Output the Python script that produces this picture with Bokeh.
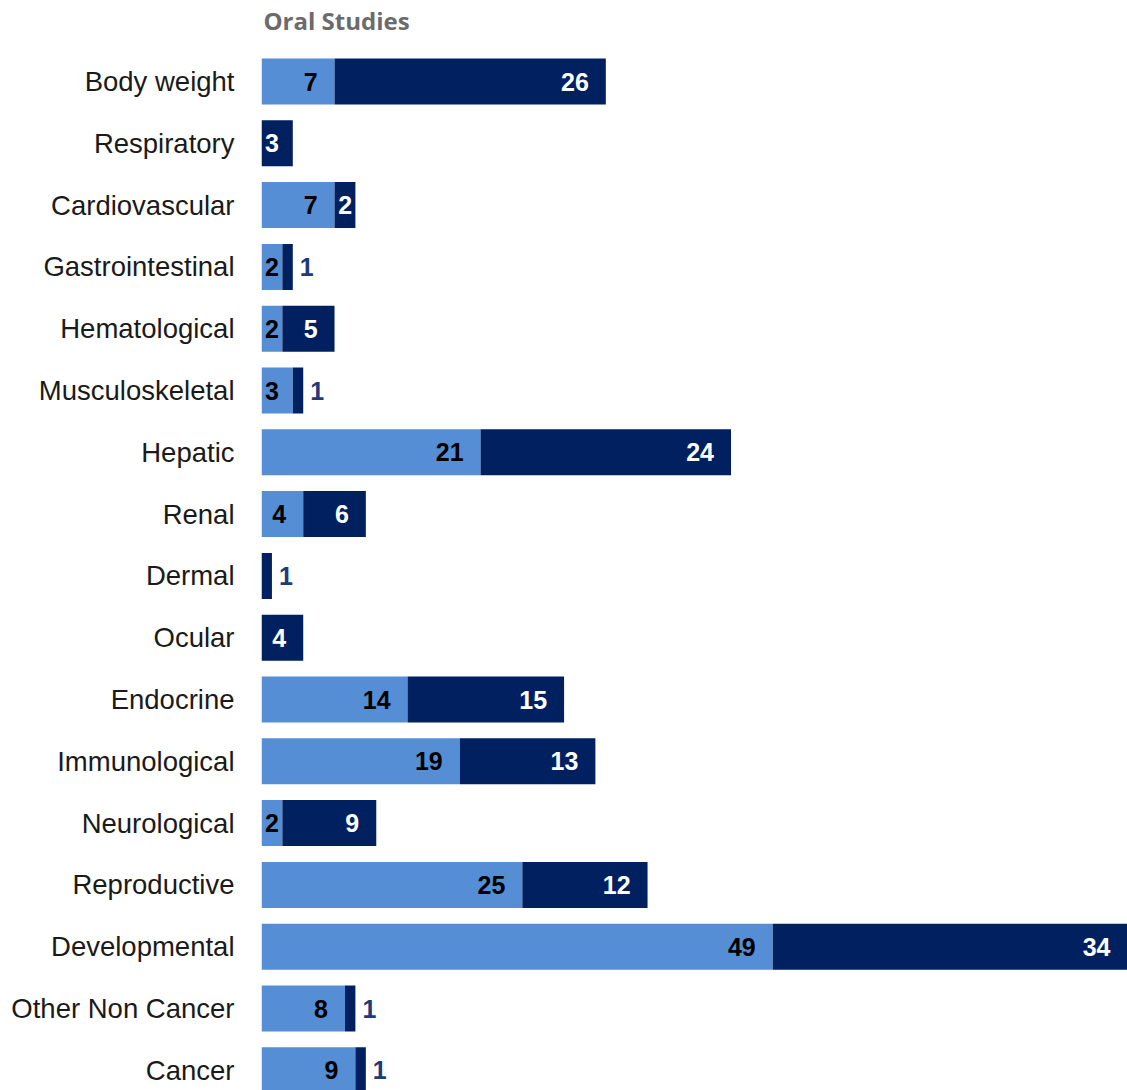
from bokeh.plotting import figure
from bokeh.models import Range1d, FixedTicker, ColumnDataSource, Label
from bokeh.core.properties import value
from bokeh.embed import file_html
from bokeh.resources import INLINE

categories = ["Body weight", "Respiratory", "Cardiovascular", "Gastrointestinal",
              "Hematological", "Musculoskeletal", "Hepatic", "Renal", "Dermal",
              "Ocular", "Endocrine", "Immunological", "Neurological", "Reproductive",
              "Developmental", "Other Non Cancer", "Cancer"]
light_vals = [7, 0, 7, 2, 2, 3, 21, 4, 0, 0, 14, 19, 2, 25, 49, 8, 9]
dark_vals = [26, 3, 2, 1, 5, 1, 24, 6, 1, 4, 15, 13, 9, 12, 34, 1, 1]
title_text = "Oral Studies"

LIGHT = "#558ED5"
DARK = "#002060"
OUT_COL = "#1F3A78"
FONT = "Liberation Sans"

n = len(categories)
idx = list(range(n))
PX_PER_UNIT = 866 / 83.0
ROW_PX = 61.8

p = figure(width=1127, height=1090, x_range=Range1d(0, 83),
           y_range=Range1d(start=(1090 - 81) / ROW_PX, end=-81 / ROW_PX),
           output_backend="svg", toolbar_location=None,
           min_border_left=261, min_border_right=0, min_border_top=0, min_border_bottom=0)
p.outline_line_color = None
p.xgrid.visible = False
p.ygrid.visible = False
p.xaxis.visible = False
p.background_fill_color = "white"
p.border_fill_color = "white"

bh = 46 / ROW_PX
light_right = light_vals
dark_left = light_vals
dark_right = [a + b for a, b in zip(light_vals, dark_vals)]
p.hbar(y=idx, left=0, right=light_right, height=bh, fill_color=LIGHT, line_color=None)
p.hbar(y=idx, left=dark_left, right=dark_right, height=bh, fill_color=DARK, line_color=None)

yax = p.yaxis[0]
yax.ticker = FixedTicker(ticks=idx)
yax.major_label_overrides = {i: c for i, c in enumerate(categories)}
yax.axis_line_color = None
yax.major_tick_line_color = None
yax.minor_tick_line_color = None
yax.major_label_standoff = 21
yax.major_label_text_font = FONT
yax.major_label_text_font_size = "27.5px"
yax.major_label_text_color = "#1a1a1a"

# data labels
pad = 17 / PX_PER_UNIT
digit = 13.5 / PX_PER_UNIT
inner = 4 / PX_PER_UNIT

def inside_x(start, end, v):
    w = len(str(v)) * digit
    return max(end - pad, start + inner + w)

in_x, in_y, in_t, in_c = [], [], [], []
out_x, out_y, out_t = [], [], []
for i in idx:
    lv, dv = light_vals[i], dark_vals[i]
    if lv > 0:
        in_x.append(inside_x(0, lv, lv)); in_y.append(i); in_t.append(str(lv)); in_c.append("black")
    if dv >= 2:
        in_x.append(inside_x(lv, lv + dv, dv)); in_y.append(i); in_t.append(str(dv)); in_c.append("white")
    elif dv == 1:
        out_x.append(lv + dv); out_y.append(i); out_t.append(str(dv))

src_in = ColumnDataSource(dict(x=in_x, y=in_y, t=in_t, c=in_c))
p.text(x="x", y="y", text="t", source=src_in, text_color="c", text_align="right",
       text_baseline="middle", text_font=value(FONT), text_font_size="25px",
       text_font_style="bold")
src_out = ColumnDataSource(dict(x=out_x, y=out_y, t=out_t))
p.text(x="x", y="y", text="t", source=src_out, text_color=OUT_COL, text_align="left",
       x_offset=7, text_baseline="middle", text_font=value(FONT), text_font_size="25px",
       text_font_style="bold")

p.add_layout(Label(x=0, y=(20 - 81) / ROW_PX, x_offset=2, text=title_text,
                   text_font="Open Sans", text_font_size="24px", text_font_style="bold",
                   text_color="#6b6b6b", text_baseline="middle", text_align="left"))

open("out.html", "w").write(file_html(p, INLINE))
